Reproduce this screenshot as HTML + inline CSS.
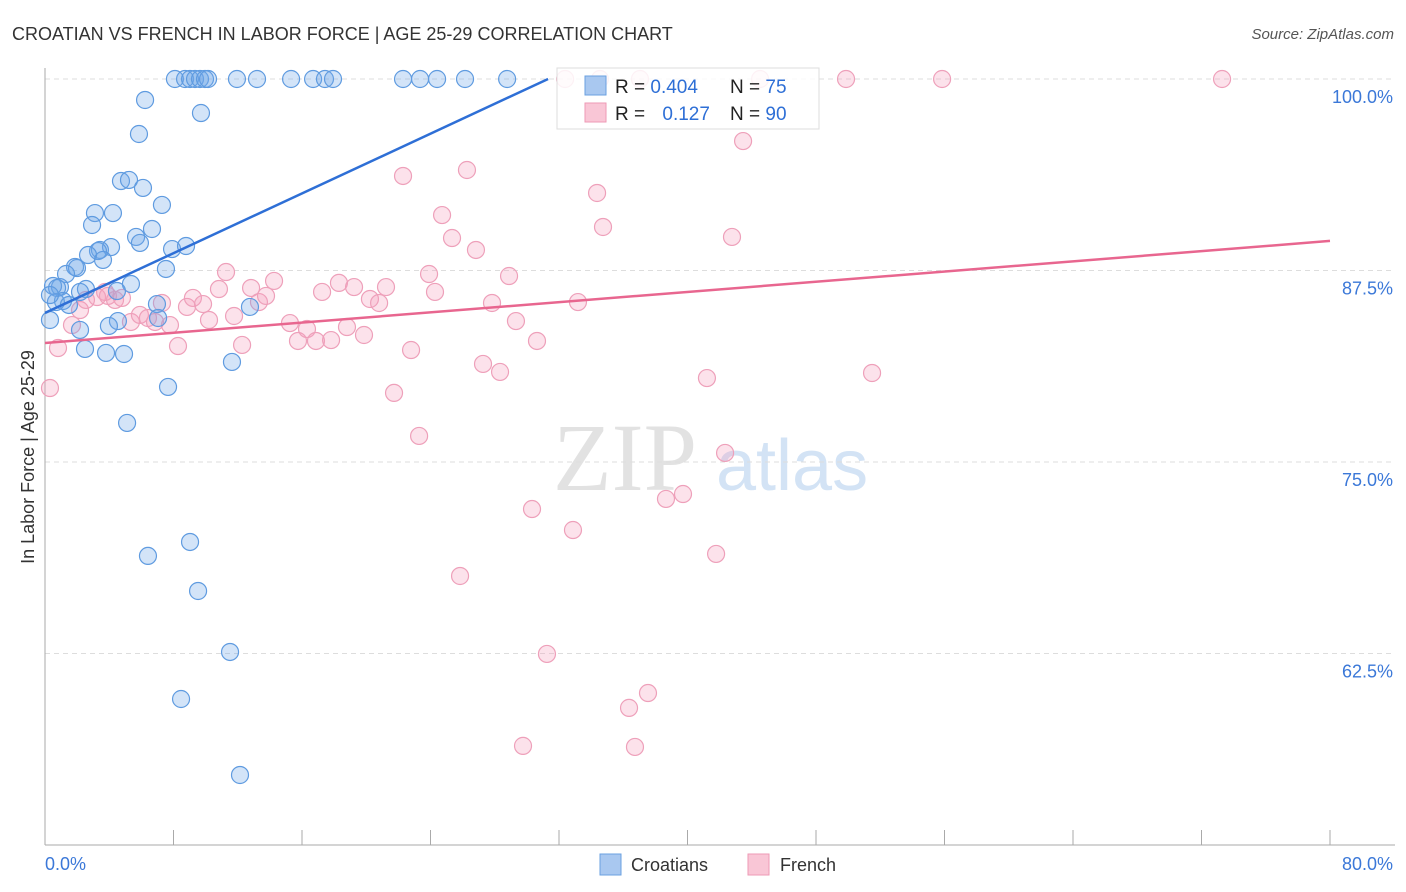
<!DOCTYPE html>
<html><head><meta charset="utf-8"><style>
body{margin:0;background:#fff;font-family:"Liberation Sans",sans-serif}
svg{display:block}
</style></head><body>
<svg id="chart" width="1406" height="892">
<text x="12" y="40" font-size="18" fill="#333">CROATIAN VS FRENCH IN LABOR FORCE | AGE 25-29 CORRELATION CHART</text>
<text x="1394" y="39" font-size="15" fill="#555" font-style="italic" text-anchor="end">Source: ZipAtlas.com</text>
<g><text x="553" y="490" font-size="96" font-family="Liberation Serif,serif" fill="#e2e2e2">ZIP</text><text x="716" y="490" font-size="72" fill="#d3e3f5">atlas</text></g>
<g id="grid"></g><g id="axes"></g>
<text transform="translate(34,457) rotate(-90)" font-size="18" fill="#333" text-anchor="middle">In Labor Force | Age 25-29</text>
<g id="pts"></g><g id="lines"></g>
<g>
<rect x="557" y="68" width="262" height="61" fill="#fff" fill-opacity="0.85" stroke="#ddd"/>
<rect x="585" y="76" width="21" height="19" fill="#a9c8f0" stroke="#6aa0e0"/>
<rect x="585" y="103" width="21" height="19" fill="#f9c6d6" stroke="#ee9ab5"/>
<text x="615" y="93" font-size="19" fill="#222">R = <tspan fill="#2e6fd6">0.404</tspan></text>
<text x="730" y="93" font-size="19" fill="#222">N = <tspan fill="#2e6fd6"> 75</tspan></text>
<text x="615" y="120" font-size="19" fill="#222">R = <tspan fill="#2e6fd6" dx="12">0.127</tspan></text>
<text x="730" y="120" font-size="19" fill="#222">N = <tspan fill="#2e6fd6">90</tspan></text>
</g>
<g>
<rect x="600" y="854" width="21" height="21" fill="#a9c8f0" stroke="#6aa0e0"/>
<text x="631" y="871" font-size="18" fill="#333">Croatians</text>
<rect x="748" y="854" width="21" height="21" fill="#f9c6d6" stroke="#ee9ab5"/>
<text x="780" y="871" font-size="18" fill="#333">French</text>
</g>
</svg>
<script>
const yTicks=[100,87.5,75,62.5];
const yTickLabels=["100.0%","87.5%","75.0%","62.5%"];
const xTickLabels=["0.0%","80.0%"];
const croatX=[8.09,8.72,9.03,9.34,9.65,9.96,10.15,11.95,13.2,15.32,16.69,17.43,17.93,22.29,23.35,24.41,26.15,28.77,6.23,9.71,5.85,4.73,5.23,6.10,7.28,3.11,4.23,6.66,2.93,5.67,4.11,5.91,3.42,3.30,2.68,3.61,7.91,8.78,1.87,1.99,1.31,7.53,0.93,0.50,0.75,2.55,5.35,2.18,1.12,0.68,1.49,4.48,6.97,12.76,7.04,4.54,3.98,2.18,2.49,3.80,4.92,11.64,7.66,5.11,6.41,9.03,9.53,11.52,8.47,12.14,0.31,0.31];
const croatY=[100,100,100,100,100,100,100,100,100,100,100,100,100,100,100,100,100,100,98.63,97.78,96.41,93.34,93.41,92.89,91.78,91.25,91.25,90.21,90.47,89.69,89.03,89.30,88.84,88.77,88.51,88.19,88.90,89.10,87.73,87.66,87.27,87.60,86.42,86.49,86.36,86.29,86.62,86.10,85.51,85.44,85.25,86.16,85.31,85.12,84.40,84.20,83.88,83.62,82.38,82.12,82.05,81.53,79.90,77.55,68.87,69.78,66.58,62.60,59.53,54.57,85.90,84.27];
const frenchX=[0.31,0.81,1.68,2.18,2.55,3.24,3.92,4.36,4.79,3.74,5.35,5.91,6.41,6.85,7.28,7.78,8.28,8.84,9.21,9.84,10.21,10.83,11.27,11.77,12.27,12.83,13.32,13.76,14.26,15.25,15.75,16.31,16.87,17.25,17.81,18.30,18.80,19.24,19.86,20.23,20.80,21.23,21.73,22.29,22.79,23.29,23.91,24.28,24.72,25.34,25.84,26.27,26.83,27.27,27.83,28.33,28.89,29.32,30.32,30.63,31.25,29.76,32.87,33.18,34.37,34.74,36.36,36.73,37.54,38.66,39.72,41.21,41.78,42.34,42.77,43.46,49.87,51.49,55.85,73.28,32.38,34.55,44.52,37.04];
const frenchY=[79.83,82.44,83.94,84.92,85.58,85.77,85.84,85.58,85.71,86.10,84.14,84.60,84.40,84.14,85.38,83.94,82.57,85.12,85.71,85.31,84.27,86.29,87.40,84.53,82.64,86.36,85.44,85.84,86.82,84.07,82.90,83.68,82.90,86.10,82.96,86.69,83.81,86.42,83.29,85.64,85.38,86.42,79.51,93.67,82.31,76.70,87.27,86.10,91.12,89.62,67.56,94.06,88.84,81.40,85.38,80.88,87.14,84.20,71.93,82.90,62.47,56.47,70.56,85.44,92.56,90.34,58.95,56.40,59.92,72.59,72.91,80.48,69.00,75.59,89.69,95.95,100,80.81,100,100,100,100,100,100];
const croatTrend=[[0,84.73],[31.32,100]];
const frenchTrend=[[0,82.77],[80,89.43]];
const NS="http://www.w3.org/2000/svg";
const X=v=>45+v/80*1285, Y=v=>79+(100-v)/12.5*191.5;
function mk(t,a,p){const e=document.createElementNS(NS,t);for(const k in a)e.setAttribute(k,a[k]);document.getElementById(p).appendChild(e);return e;}
yTicks.forEach((t,i)=>{
 const l=mk('line',{x1:45,x2:1395,y1:Y(t),y2:Y(t),stroke:'#ddd','stroke-dasharray':'5,4'},'grid');
 
 
 const tx=mk('text',{x:1393,y:Y(t)+24,'font-size':18,fill:'#3b78d8','text-anchor':'end'},'axes');tx.textContent=yTickLabels[i];
 
 
});
mk('line',{x1:45,x2:45,y1:68,y2:845,stroke:'#aaa'},'axes');
mk('line',{x1:45,x2:1395,y1:845,y2:845,stroke:'#aaa'},'axes');
for(let i=1;i<=10;i++){const t=mk('line',{x1:X(i*8),x2:X(i*8),y1:830,y2:845,stroke:'#aaa'},'axes');
 
 }
[[0,'start',45],[80,'end',1393]].forEach((d,i)=>{const t=mk('text',{x:d[2],y:870,'font-size':18,fill:'#3b78d8','text-anchor':d[1]},'axes');t.textContent=xTickLabels[i];
 
 });
function pts(xs,ys,fill,stroke,name){xs.forEach((x,i)=>{const c=mk('circle',{cx:X(x),cy:Y(ys[i]),r:8.5,fill:fill,stroke:stroke,'stroke-width':1.2},'pts');
 
 });}
pts(frenchX,frenchY,'rgba(244,160,188,0.3)','#eea0ba','french-point');
pts(croatX,croatY,'rgba(110,165,232,0.3)','#5f9be0','croatian-point');
[[croatTrend,'#2e6fd6','croatian-trendline'],[frenchTrend,'#e8668f','french-trendline']].forEach(d=>{
 const l=mk('line',{x1:X(d[0][0][0]),y1:Y(d[0][0][1]),x2:X(d[0][1][0]),y2:Y(d[0][1][1]),stroke:d[1],'stroke-width':2.5},'lines');
 
 });
</script>
</body></html>
